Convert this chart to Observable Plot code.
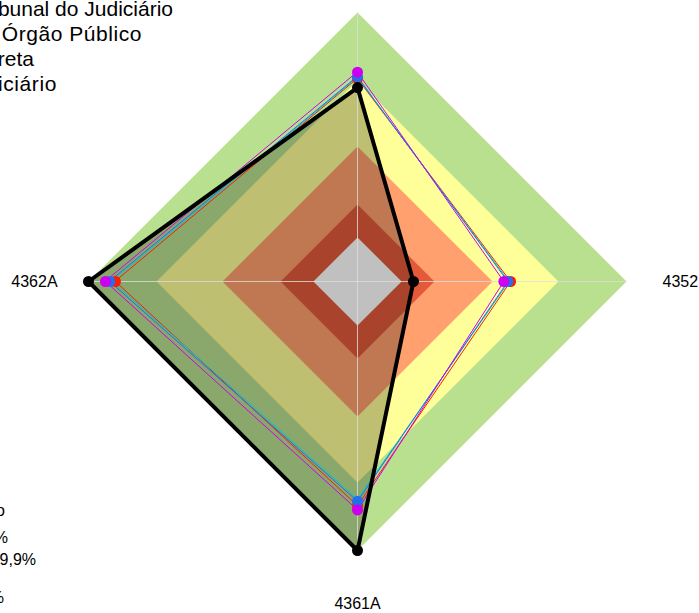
<!DOCTYPE html>
<html>
<head>
<meta charset="utf-8">
<script src="https://cdn.jsdelivr.net/npm/d3@7"></script>
<script src="https://cdn.jsdelivr.net/npm/@observablehq/plot@0.6"></script>
<style>
  html, body { margin: 0; padding: 0; background: #fff; }
  #wrap { position: relative; width: 699px; height: 613px; overflow: hidden; font-family: "Liberation Sans", Arial, sans-serif; }
  #wrap svg { position: absolute; left: 0; top: 0; }
</style>
</head>
<body>
<div id="wrap"></div>
<script>
// ---- data ----
const axisLabels = ["4351A", "4352", "4361A", "4362A"]; // top, right, bottom, left
const bandLimits = [100, 74.7, 50.2, 28.6, 16.4];
const bandColors = ["#b9e08f", "#ffff99", "#ffa06e", "#e35a3a", "#c0c0c0"];
const seriesNames = ["Tribunal", "Série vermelha", "Série ciano", "Série azul", "Série magenta"];
const seriesColors = ["#000000", "#ff1a00", "#00c8c8", "#1f6fee", "#cc00ee"];
const tribunalValues = [72.1, 20.8, 100, 100];
const redValues = [75.4, 56.9, 83.3, 90.0];
const cyanValues = [75.8, 56.3, 81.0, 91.2];
const blueValues = [76.1, 55.9, 81.7, 92.1];
const magentaValues = [77.8, 54.4, 84.9, 93.7];
const legendTop = ["Tribunal", "Tribunal do Judiciário", "Outro Órgão Público", "Administração Direta", "Poder Judiciário"];
const legendBands = ["Desempenho", "Acima de 90%", "De 80% a 89,9%", "De 50% a 79,9%", "Abaixo de 50%"];

// ---- geometry ----
const W = 699, H = 613, cx = 357, cy = 281, k = 2.69; // px per unit
const angle = i => Math.PI / 2 - i * Math.PI / 2;
const pt = (i, v) => ({x: v * Math.cos(angle(i)), y: v * Math.sin(angle(i))});
const poly = (vals, g) => vals.map((v, i) => ({...pt(i, v), g, i}));
const diamond = (v, g) => poly([v, v, v, v], g);

const allSeries = [tribunalValues, redValues, cyanValues, blueValues, magentaValues];

const marks = [];
bandLimits.slice(0, 4).forEach((v, j) => {
  marks.push(Plot.line(diamond(v, j), {x: "x", y: "y", curve: "linear-closed", fill: bandColors[j], stroke: "none"}));
});
marks.push(Plot.line(poly(tribunalValues, "t"), {x: "x", y: "y", curve: "linear-closed", fill: "#000", fillOpacity: 0.25, stroke: "none"}));
marks.push(Plot.line(diamond(bandLimits[4], "c"), {x: "x", y: "y", curve: "linear-closed", fill: bandColors[4], stroke: "none"}));
const spokes = axisLabels.flatMap((l, i) => [{...pt(i, 0), i}, {...pt(i, 100), i}]);
marks.push(Plot.line(spokes, {x: "x", y: "y", z: "i", stroke: "#dcdcdc", strokeOpacity: 0.8, strokeWidth: 1}));
[1, 2, 3, 4].forEach(s => {
  marks.push(Plot.line(poly(allSeries[s], s), {x: "x", y: "y", curve: "linear-closed", stroke: seriesColors[s], strokeWidth: 1}));
});
marks.push(Plot.line(poly(tribunalValues, "t"), {x: "x", y: "y", curve: "linear-closed", stroke: "#000", strokeWidth: 4, strokeLinejoin: "miter"}));
[1, 3, 4].forEach(s => {
  marks.push(Plot.dot(poly(allSeries[s], s), {x: "x", y: "y", r: 5.5, fill: seriesColors[s], stroke: "none"}));
});
marks.push(Plot.dot(poly(tribunalValues, "t"), {x: "x", y: "y", r: 5.5, fill: "#000"}));
const labelRows = [
  {...pt(1, 113.4), t: axisLabels[1], a: "start"},
  {...pt(2, 120), t: axisLabels[2], a: "middle"},
  {...pt(3, 111.5), t: axisLabels[3], a: "end"}
];
["start", "middle", "end"].forEach(a => {
  marks.push(Plot.text(labelRows.filter(d => d.a === a), {x: "x", y: "y", text: "t", textAnchor: a, fontSize: 16, fill: "#000", fontFamily: "Liberation Sans, Arial, sans-serif"}));
});

const chart = Plot.plot({
  width: W, height: H, margin: 0,
  x: {domain: [-cx / k, (W - cx) / k], axis: null},
  y: {domain: [-(H - cy) / k, cy / k], axis: null},
  style: {background: "transparent", fontFamily: "Liberation Sans, Arial, sans-serif"},
  marks
});
const wrap = document.getElementById("wrap");
wrap.appendChild(chart);

const ov = d3.select(wrap).append("svg").attr("width", W).attr("height", H);
const topEnds = [150, 173, 142, 34, 57];
const topBase = [-9, 16, 41, 66, 91];
const topSpacing = [0, 0, 0.55, 0, 0.6];
ov.selectAll("text.lt").data(legendTop).join("text")
  .attr("class", "lt")
  .attr("x", (d, i) => topEnds[i]).attr("y", (d, i) => topBase[i])
  .attr("text-anchor", "end")
  .style("font-size", "21px")
  .style("letter-spacing", (d, i) => topSpacing[i] + "px")
  .style("font-family", "Liberation Sans, Arial, sans-serif")
  .attr("fill", "#000").text(d => d);
const botEnds = [5, 8, 36, -4, 4];
const botBase = [516, 543, 565, 584, 603];
ov.selectAll("text.lb").data(legendBands).join("text")
  .attr("class", "lb")
  .attr("x", (d, i) => botEnds[i]).attr("y", (d, i) => botBase[i])
  .attr("text-anchor", "end")
  .style("font-size", "16px")
  .style("font-family", "Liberation Sans, Arial, sans-serif")
  .attr("fill", "#000").text(d => d);
</script>
</body>
</html>
